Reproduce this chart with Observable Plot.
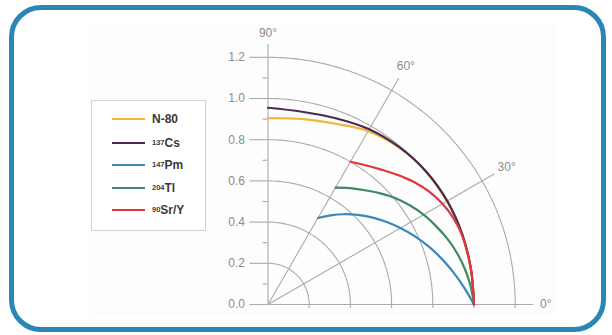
<!DOCTYPE html>
<html><head><meta charset="utf-8">
<script src="https://cdn.jsdelivr.net/npm/d3@7"></script>
<script src="https://cdn.jsdelivr.net/npm/@observablehq/plot@0.6"></script>
<style>
html,body{margin:0;padding:0;background:#fff;}
#wrap{position:relative;width:612px;height:335px;overflow:hidden;background:#fff;}
#panel{position:absolute;left:90px;top:25px;width:465px;height:292px;background:#fdfdfd;}
#chart{position:absolute;left:0;top:0;}
#frame{position:absolute;left:9px;top:5px;width:597px;height:327px;box-sizing:border-box;border:5.5px solid #2a86b6;border-radius:32px;pointer-events:none;}
#legend{position:absolute;left:91px;top:100px;width:115px;height:131px;box-sizing:border-box;border:1px solid #d2d2d2;background:#fff;font-family:"Liberation Sans Narrow","Arial Narrow","Liberation Sans",sans-serif;font-weight:bold;font-size:12px;color:#3a3a3a;}
.item{position:absolute;left:20px;height:14px;display:flex;align-items:center;white-space:nowrap;}
.item .sw{width:33px;height:2px;margin-right:7px;}
.item sup{font-size:7.5px;vertical-align:4px;line-height:0;}
</style></head>
<body>
<div id="wrap">
  <div id="panel"></div>
  <div id="chart"></div>
  <div id="legend"></div>
  <div id="frame"></div>
</div>
<script>
// ---- data ----
const seriesNames = ["N-80", "Cs", "Pm", "Tl", "Sr/Y"];
const seriesIsotopes = ["", "137", "147", "204", "90"];
const seriesColors = ["#f2b640", "#4a2b50", "#3b87b9", "#3e8a62", "#e0393d"];

const n80Angles = [90, 80, 70, 60, 50, 40, 30, 20, 10, 0];
const n80Values = [0.905, 0.915, 0.935, 0.972, 0.993, 1.002, 1.004, 1.002, 1.0, 1.0];

const csAngles = [90, 80, 70, 60, 50, 40, 30, 20, 10, 0];
const csValues = [0.955, 0.95, 0.962, 0.982, 0.995, 1.003, 1.005, 1.003, 1.0, 1.0];

const pmAngles = [60, 55, 50, 45, 40, 35, 30, 25, 20, 15, 10, 5, 0];
const pmValues = [0.485, 0.528, 0.572, 0.615, 0.658, 0.7, 0.742, 0.785, 0.828, 0.87, 0.912, 0.955, 1.0];

const tlAngles = [60, 55, 50, 45, 40, 35, 30, 25, 20, 15, 10, 5, 0];
const tlValues = [0.655, 0.69, 0.725, 0.765, 0.805, 0.84, 0.872, 0.9, 0.928, 0.952, 0.972, 0.988, 1.0];

const srAngles = [60, 55, 50, 45, 40, 35, 30, 25, 20, 10, 0];
const srValues = [0.8, 0.825, 0.855, 0.89, 0.925, 0.955, 0.978, 0.993, 1.0, 1.0, 1.0];

const ringRadii = [0.2, 0.4, 0.6, 0.8, 1.0, 1.2];
const yTicks = [0, 0.2, 0.4, 0.6, 0.8, 1.0, 1.2];
const yMinorTicks = [0.1, 0.3, 0.5, 0.7, 0.9, 1.1];
const spokeAngles = [30, 60];
const angleLabels = [0, 30, 60, 90];

// ---- build ----
const W = 612, H = 335, OX = 267.5, OY = 304, S = 206;
const rad = a => a * Math.PI / 180;
const series = [
  [n80Angles, n80Values], [csAngles, csValues], [pmAngles, pmValues],
  [tlAngles, tlValues], [srAngles, srValues]
];
const curvePts = [];
series.forEach(([angs, vals], i) => {
  angs.forEach((a, j) => curvePts.push({s: i, x: vals[j] * Math.cos(rad(a)), y: vals[j] * Math.sin(rad(a))}));
});
const ringPts = [];
ringRadii.forEach(r => { for (let a = 0; a <= 90; a += 1) ringPts.push({r, x: r * Math.cos(rad(a)), y: r * Math.sin(rad(a))}); });
const spokeLen = 1.27, labelR = 1.338;
const grid = "#ababab";

const plot = Plot.plot({
  width: W, height: H,
  marginLeft: OX, marginRight: 0, marginTop: 0, marginBottom: H - OY,
  x: {domain: [0, (W - OX) / S], axis: null},
  y: {domain: [0, OY / S], axis: null},
  style: {background: "transparent", fontFamily: "'Liberation Sans Narrow','Liberation Sans',sans-serif", fontSize: "12px", overflow: "visible"},
  marks: [
    Plot.line(ringPts, {x: "x", y: "y", z: "r", stroke: grid, strokeWidth: 1.1}),
    Plot.link(spokeAngles, {x1: 0, y1: 0, x2: a => spokeLen * Math.cos(rad(a)), y2: a => spokeLen * Math.sin(rad(a)), stroke: grid, strokeWidth: 1.1}),
    Plot.ruleX([0], {y1: 0, y2: 1.262, stroke: grid, strokeWidth: 1.1}),
    Plot.ruleY([0], {x1: 0, x2: 1.29, stroke: grid, strokeWidth: 1.1}),
    Plot.ruleY(yTicks, {y: d => d, x1: -18 / S, x2: 0, stroke: grid, strokeWidth: 1.1}),
    Plot.ruleY(yMinorTicks, {y: d => d, x1: -5 / S, x2: 0, stroke: grid, strokeWidth: 1.1}),
    Plot.ruleX(ringRadii, {x: d => d, y1: 0, y2: -4 / S, stroke: grid, strokeWidth: 1.1}),
    Plot.text(yTicks, {x: 0, y: d => d, dx: -23, textAnchor: "end", text: d => d.toFixed(1), fill: "#8c8c8c", fontSize: 12}),
    Plot.text(angleLabels, {x: a => labelR * Math.cos(rad(a)) + (a === 0 ? 0.01 : 0), y: a => labelR * Math.sin(rad(a)) - (a === 90 ? 0.02 : 0), text: a => a + "°", textAnchor: "middle", fill: "#8c8c8c", fontSize: 12}),
    Plot.line(curvePts, {x: "x", y: "y", z: "s", stroke: d => seriesColors[d.s], strokeWidth: 2.2, curve: "catmull-rom"})
  ]
});
document.getElementById("chart").appendChild(plot);

const legend = document.getElementById("legend");
const legendTops = [11, 35, 57, 80, 102];
seriesNames.forEach((n, i) => {
  const d = document.createElement("div");
  d.className = "item";
  d.style.top = legendTops[i] + "px";
  d.innerHTML = `<span class="sw" style="background:${seriesColors[i]}"></span>` +
    (seriesIsotopes[i] ? `<sup>${seriesIsotopes[i]}</sup>` : "") + n;
  legend.appendChild(d);
});
</script>
</body></html>
